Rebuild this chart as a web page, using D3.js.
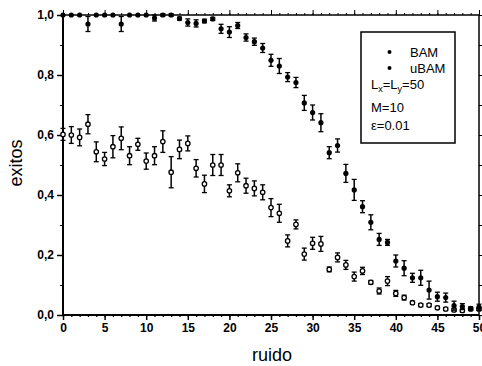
<!DOCTYPE html>
<html>
<head>
<meta charset="utf-8">
<script src="https://cdn.jsdelivr.net/npm/d3@7"></script>
<style>
  body { margin: 0; background: #fff; }
  svg { display: block; font-family: "Liberation Sans", Arial, sans-serif; }
</style>
</head>
<body>
<div id="chart"></div>
<script>
// ruido 0..50
const ruido = d3.range(0, 51);

const bam = [1.0, 1.0, 1.0, 0.97, 1.0, 1.0, 1.0, 0.97, 1.0, 1.0,
  1.0, 0.99, 1.0, 1.0, 0.988, 0.975, 0.972, 0.98, 0.987, 0.954,
  0.943, 0.965, 0.925, 0.911, 0.89, 0.849, 0.83, 0.793, 0.775, 0.707,
  0.675, 0.641, 0.541, 0.565, 0.472, 0.417, 0.361, 0.309, 0.252, 0.242,
  0.18, 0.156, 0.124, 0.124, 0.083, 0.061, 0.058, 0.031, 0.028, 0.022, 0.026];

const bamErr = [0, 0, 0, 0.025, 0, 0, 0, 0.025, 0, 0,
  0, 0.01, 0.004, 0.004, 0.005, 0.012, 0.012, 0.006, 0.005, 0.015,
  0.018, 0.01, 0.012, 0.012, 0.015, 0.02, 0.025, 0.015, 0.017, 0.025,
  0.025, 0.03, 0.02, 0.022, 0.03, 0.035, 0.02, 0.025, 0.02, 0.01,
  0.02, 0.025, 0.015, 0.025, 0.03, 0.015, 0.015, 0.015, 0.01, 0.005, 0.01];

const ubam = [0.602, 0.6, 0.592, 0.636, 0.544, 0.52, 0.561, 0.589, 0.531, 0.569,
  0.513, 0.531, 0.578, 0.476, 0.552, 0.572, 0.489, 0.437, 0.5, 0.5,
  0.414, 0.474, 0.431, 0.422, 0.409, 0.358, 0.339, 0.247, 0.302, 0.203,
  0.239, 0.237, 0.152, 0.192, 0.167, 0.128, 0.147, 0.109, 0.08, 0.113,
  0.072, 0.058, 0.041, 0.033, 0.033, 0.024, 0.02, 0.017, 0.015, 0.02, 0.02];

const ubamErr = [0.02, 0.028, 0.028, 0.032, 0.033, 0.022, 0.037, 0.038, 0.03, 0.02,
  0.027, 0.03, 0.036, 0.052, 0.031, 0.025, 0.029, 0.029, 0.035, 0.035,
  0.02, 0.03, 0.025, 0.025, 0.025, 0.03, 0.03, 0.02, 0.015, 0.02,
  0.02, 0.025, 0.008, 0.015, 0.015, 0.015, 0.012, 0.006, 0.01, 0.015,
  0.01, 0.008, 0.005, 0.005, 0.005, 0.005, 0.005, 0.005, 0.005, 0.005, 0.005];

const xTickLabels = d3.range(0, 51, 5);
const yTickLabels = [0, 0.2, 0.4, 0.6, 0.8, 1.0];
const legendLines = ["L_x=L_y=50", "M=10", "\u03b5=0.01"];

const width = 482, height = 366;

const svg = d3.select("#chart").append("svg")
  .attr("width", width)
  .attr("height", height);

const x = d3.scaleLinear().domain([0, 50]).range([63, 479]);
const y = d3.scaleLinear().domain([0, 1]).range([315, 15]);

const commaFmt = v => d3.format(".1f")(v).replace(".", ",");

// bottom axis: minor ticks every unit, long ones every 5
svg.append("g")
  .attr("transform", `translate(0,${y(0)})`)
  .call(d3.axisBottom(x).tickValues(ruido).tickSize(2).tickFormat(""))
  .call(g => g.select(".domain").remove())
  .selectAll("line").attr("stroke-width", 1.3);
svg.append("g")
  .attr("transform", `translate(0,${y(0)})`)
  .call(d3.axisBottom(x).tickValues(xTickLabels).tickSize(5).tickPadding(3))
  .call(g => g.select(".domain").remove())
  .call(g => g.selectAll("line").attr("stroke-width", 1.5))
  .call(g => g.selectAll("text")
    .attr("font-size", 12).attr("font-weight", "bold")
    .attr("font-family", "Liberation Sans, Arial, sans-serif").attr("fill", "#000"));

// top axis
svg.append("g")
  .attr("transform", `translate(0,${y(1)})`)
  .call(d3.axisTop(x).tickValues(ruido).tickSize(2).tickFormat(""))
  .call(g => g.select(".domain").remove());
svg.append("g")
  .attr("transform", `translate(0,${y(1)})`)
  .call(d3.axisTop(x).tickValues(xTickLabels).tickSize(5).tickFormat(""))
  .call(g => g.select(".domain").remove());

// left axis
svg.append("g")
  .attr("transform", `translate(${x(0)},0)`)
  .call(d3.axisLeft(y).tickValues(d3.range(0.1, 1, 0.2)).tickSize(3).tickFormat(""))
  .call(g => g.select(".domain").remove());
svg.append("g")
  .attr("transform", `translate(${x(0)},0)`)
  .call(d3.axisLeft(y).tickValues(yTickLabels).tickSize(6).tickPadding(3).tickFormat(commaFmt))
  .call(g => g.select(".domain").remove())
  .call(g => g.selectAll("line").attr("stroke-width", 1.5))
  .call(g => g.selectAll("text")
    .attr("font-size", 12).attr("font-weight", "bold")
    .attr("font-family", "Liberation Sans, Arial, sans-serif").attr("fill", "#000"));

// right axis
svg.append("g")
  .attr("transform", `translate(${x(50)},0)`)
  .call(d3.axisRight(y).tickValues(d3.range(0, 1.01, 0.1)).tickSize(3).tickFormat(""))
  .call(g => g.select(".domain").remove());

// frame
svg.append("line").attr("x1", x(0)).attr("x2", x(50)).attr("y1", y(1)).attr("y2", y(1))
  .attr("stroke", "#000").attr("stroke-width", 1.5);
svg.append("line").attr("x1", x(50)).attr("x2", x(50)).attr("y1", y(1)).attr("y2", y(0))
  .attr("stroke", "#000").attr("stroke-width", 1.5);
svg.append("line").attr("x1", x(0)).attr("x2", x(50)).attr("y1", y(0)).attr("y2", y(0))
  .attr("stroke", "#000").attr("stroke-width", 2);
svg.append("line").attr("x1", x(0)).attr("x2", x(0)).attr("y1", y(1)).attr("y2", y(0))
  .attr("stroke", "#000").attr("stroke-width", 2);

// axis titles
svg.append("text")
  .attr("x", 272).attr("y", 361)
  .attr("text-anchor", "middle")
  .attr("font-size", 18)
  .text("ruido");
svg.append("text")
  .attr("transform", `translate(22,163) rotate(-90)`)
  .attr("text-anchor", "middle")
  .attr("font-size", 18)
  .text("exitos");

// error bars + points
function drawSeries(vals, errs, filled) {
  const g = svg.append("g");
  const pts = ruido.map((r, i) => ({ r: r, v: vals[i], e: errs[i] }));
  const eb = g.selectAll("g.eb").data(pts.filter(d => d.e > 0)).join("g").attr("class", "eb");
  eb.append("line")
    .attr("x1", d => x(d.r)).attr("x2", d => x(d.r))
    .attr("y1", d => y(d.v + d.e)).attr("y2", d => y(d.v - d.e))
    .attr("stroke", "#000").attr("stroke-width", 1.5);
  eb.selectAll("line.cap")
    .data(d => [[d.r, d.v + d.e], [d.r, d.v - d.e]])
    .join("line").attr("class", "cap")
    .attr("x1", d => x(d[0]) - 2.5).attr("x2", d => x(d[0]) + 2.5)
    .attr("y1", d => y(d[1])).attr("y2", d => y(d[1]))
    .attr("stroke", "#000").attr("stroke-width", 1.3);
  g.selectAll("circle").data(pts).join("circle")
    .attr("cx", d => x(d.r)).attr("cy", d => y(d.v))
    .attr("r", filled ? 2.6 : 2.2)
    .attr("fill", filled ? "#000" : "#fff")
    .attr("stroke", "#000").attr("stroke-width", filled ? 0 : 1.3);
}
drawSeries(ubam, ubamErr, false);
drawSeries(bam, bamErr, true);

// legend
const lg = svg.append("g");
lg.append("rect")
  .attr("x", 361).attr("y", 32).attr("width", 94).attr("height", 111)
  .attr("fill", "#fff").attr("stroke", "#000").attr("stroke-width", 1.5);
[["BAM", 52], ["uBAM", 68]].forEach(([name, yy]) => {
  lg.append("circle").attr("cx", 389.5).attr("cy", yy).attr("r", 2).attr("fill", "#000");
  lg.append("text").attr("x", 410).attr("y", yy + 5)
    .attr("font-size", 13).text(name);
});
const t1 = lg.append("text").attr("x", 371).attr("y", 89).attr("font-size", 13);
t1.append("tspan").text("L");
t1.append("tspan").attr("font-size", 9).attr("dy", 3).text("x");
t1.append("tspan").attr("dy", -3).text("=L");
t1.append("tspan").attr("font-size", 9).attr("dy", 3).text("y");
t1.append("tspan").attr("dy", -3).text("=50");
lg.append("text").attr("x", 371).attr("y", 112).attr("font-size", 13).text(legendLines[1]);
lg.append("text").attr("x", 371).attr("y", 130).attr("font-size", 13).text(legendLines[2]);
</script>
</body>
</html>
